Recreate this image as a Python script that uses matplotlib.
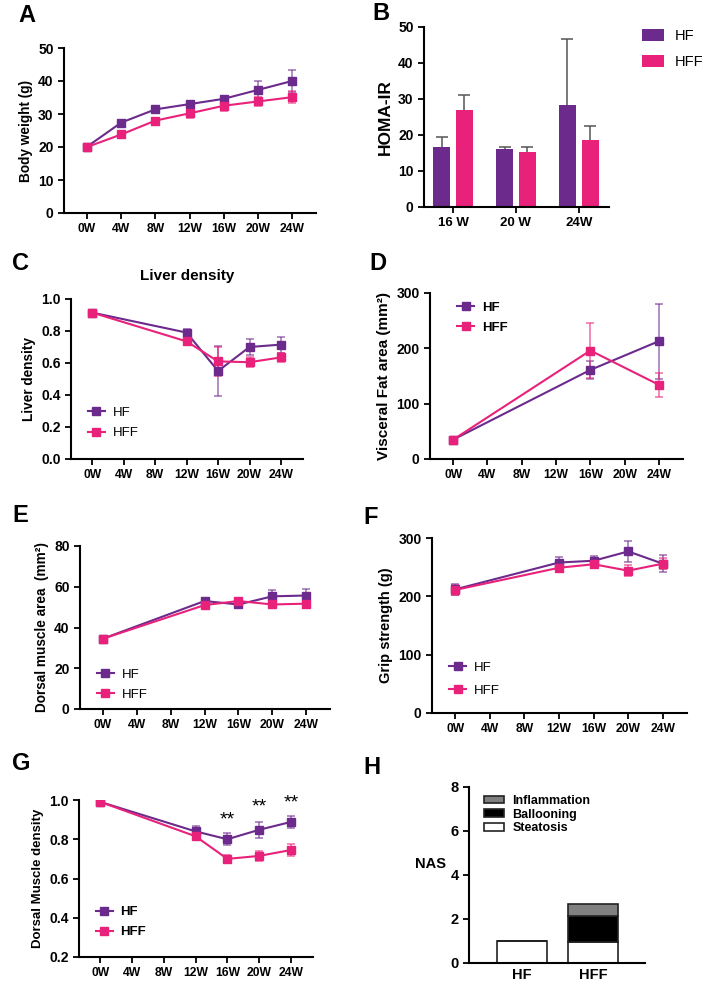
import matplotlib
matplotlib.use('Agg')
import matplotlib.pyplot as plt
from matplotlib.lines import Line2D

plt.rcParams['font.family'] = ['Liberation Sans', 'DejaVu Sans']
plt.rcParams['font.weight'] = 'bold'
plt.rcParams['axes.labelweight'] = 'bold'

# 颜色
purple = '#6b2a8c'
pink = '#e8217a'

# 时间轴
weeks = [0, 4, 8, 12, 16, 20, 24]
week_labels = ['0W', '4W', '8W', '12W', '16W', '20W', '24W']

# A 体重
bw_hf = [20.1, 27.4, 31.4, 33.0, 34.6, 37.3, 40.0]
bw_hf_err = [0.8, 0.6, 0.6, 0.9, 0.8, 2.7, 3.3]
bw_hff = [20.0, 23.8, 28.0, 30.2, 32.5, 33.8, 35.1]
bw_hff_err = [0.5, 0.5, 0.6, 1.3, 1.6, 1.5, 1.9]

# B HOMA-IR
homa_groups = ['16 W', '20 W', '24W']
homa_hf = [16.7, 16.2, 28.2]
homa_hf_err = [2.8, 0.6, 18.6]
homa_hff = [26.9, 15.3, 18.5]
homa_hff_err = [4.2, 1.5, 4.0]

# C 肝脏密度
lv_weeks = [0, 12, 16, 20, 24]
lv_hf = [0.915, 0.79, 0.55, 0.70, 0.715]
lv_hf_err = [0.005, 0.02, 0.155, 0.05, 0.05]
lv_hff = [0.915, 0.735, 0.61, 0.605, 0.635]
lv_hff_err = [0.005, 0.01, 0.09, 0.03, 0.03]

# D 内脏脂肪面积
vf_weeks = [0, 16, 24]
vf_hf = [35, 161, 213]
vf_hf_err = [3, 17, 68]
vf_hff = [35, 196, 134]
vf_hff_err = [3, 49, 22]

# E 背部肌肉面积
dm_weeks = [0, 12, 16, 20, 24]
dm_hf = [34.5, 53.0, 51.3, 55.3, 55.7]
dm_hf_err = [0.8, 1.2, 1.3, 3.0, 3.0]
dm_hff = [34.5, 51.0, 53.0, 51.3, 51.7]
dm_hff_err = [0.8, 1.0, 1.0, 1.0, 1.0]

# F 握力
gs_weeks = [0, 12, 16, 20, 24]
gs_hf = [212, 258, 261, 277, 256]
gs_hf_err = [9, 10, 8, 18, 15]
gs_hff = [211, 249, 255, 244, 256]
gs_hff_err = [8, 6, 6, 9, 9]

# G 背部肌肉密度
md_weeks = [0, 12, 16, 20, 24]
md_hf = [0.99, 0.84, 0.80, 0.848, 0.888]
md_hf_err = [0.005, 0.025, 0.03, 0.04, 0.03]
md_hff = [0.99, 0.815, 0.70, 0.715, 0.745]
md_hff_err = [0.005, 0.01, 0.02, 0.025, 0.03]
star_weeks = [16, 20, 24]
star_y = [0.90, 0.965, 0.985]

# H NAS
nas_groups = ['HF', 'HFF']
nas_steatosis = [1.0, 0.97]
nas_ballooning = [0.0, 1.16]
nas_inflammation = [0.0, 0.57]

W, H = 709, 985
fig = plt.figure(figsize=(W / 100, H / 100), dpi=100)


def make_ax(l, r, t, b):
    ax = fig.add_axes([l / W, 1 - b / H, (r - l) / W, (b - t) / H])
    for s in ['top', 'right']:
        ax.spines[s].set_visible(False)
    for s in ['left', 'bottom']:
        ax.spines[s].set_linewidth(1.5)
    ax.tick_params(width=1.3, length=4, direction='out')
    ax.tick_params(axis='x', labelsize=8.7)
    ax.tick_params(axis='y', labelsize=10)
    return ax


def line_panel(ax, x, hf, hf_err, hff, hff_err, ylim, yticks, ylabel, lsize=9.8):
    ax.errorbar(x, hf, yerr=hf_err, color=purple, lw=1.5, marker='s', ms=5.5,
                capsize=3, elinewidth=1.1, capthick=1.1, ecolor=purple + 'aa', label='HF')
    ax.errorbar(x, hff, yerr=hff_err, color=pink, lw=1.5, marker='s', ms=5.5,
                capsize=3, elinewidth=1.1, capthick=1.1, ecolor=pink + 'aa', label='HFF')
    ax.set_xlim(-2.7, 26.8)
    ax.set_xticks(weeks)
    ax.set_xticklabels(week_labels)
    ax.set_ylim(ylim)
    ax.set_yticks(yticks)
    ax.set_ylabel(ylabel, fontsize=lsize)


def line_legend(ax, x, y, bold, spacing=0.6):
    handles = [Line2D([], [], color=purple, lw=1.5, marker='s', ms=5.5),
               Line2D([], [], color=pink, lw=1.5, marker='s', ms=5.5)]
    ax.legend(handles, ['HF', 'HFF'], loc='upper left', bbox_to_anchor=(x, y),
              frameon=False, handlelength=1.3, handletextpad=0.6, labelspacing=spacing,
              prop={'size': 9.5, 'weight': 'bold' if bold else 'normal'})


# A
axA = make_ax(64, 316, 48, 213)
line_panel(axA, weeks, bw_hf, bw_hf_err, bw_hff, bw_hff_err, (0, 50), range(0, 51, 10), 'Body weight (g)')

# B
axB = make_ax(424, 609, 27, 207)
xb = range(len(homa_groups))
axB.bar([i - 0.18 for i in xb], homa_hf, width=0.27, color=purple, label='HF')
axB.bar([i + 0.18 for i in xb], homa_hff, width=0.27, color=pink, label='HFF')
for off, vals, errs in [(-0.18, homa_hf, homa_hf_err), (0.18, homa_hff, homa_hff_err)]:
    eb = axB.errorbar([i + off for i in xb], vals, yerr=[[0] * 3, errs], fmt='none',
                      ecolor='#555555', elinewidth=1.1, capsize=4, capthick=1.1)
    eb[1][0].set_visible(False)
axB.set_xlim(-0.46, 2.48)
axB.set_xticks(list(xb))
axB.set_xticklabels(homa_groups, fontsize=9.5)
axB.set_ylim(0, 50)
axB.set_yticks(range(0, 51, 10))
axB.set_ylabel('HOMA-IR', fontsize=12.5)
axB.legend(loc='upper left', bbox_to_anchor=(1.11, 1.06), frameon=False,
           handlelength=1.5, handleheight=0.9, handletextpad=0.7, labelspacing=0.8,
           prop={'size': 10.5, 'weight': 'normal'})

# C
axC = make_ax(71, 303, 299, 459)
line_panel(axC, lv_weeks, lv_hf, lv_hf_err, lv_hff, lv_hff_err, (0, 1.0),
           [0.0, 0.2, 0.4, 0.6, 0.8, 1.0], 'Liver density')
axC.yaxis.set_major_formatter(plt.FormatStrFormatter('%.1f'))
axC.set_title('Liver density', fontsize=11, fontweight='bold', pad=14)
line_legend(axC, 0.02, 0.4, False)

# D
axD = make_ax(430, 683, 293, 459)
line_panel(axD, vf_weeks, vf_hf, vf_hf_err, vf_hff, vf_hff_err, (0, 300),
           [0, 100, 200, 300], 'Visceral Fat area (mm²)', lsize=11)
line_legend(axD, 0.06, 1.02, True)

# E
axE = make_ax(80, 330, 546, 709)
line_panel(axE, dm_weeks, dm_hf, dm_hf_err, dm_hff, dm_hff_err, (0, 80),
           range(0, 81, 20), 'Dorsal muscle area  (mm²)')
line_legend(axE, 0.02, 0.32, False)

# F
axF = make_ax(432, 687, 538, 713)
line_panel(axF, gs_weeks, gs_hf, gs_hf_err, gs_hff, gs_hff_err, (0, 300),
           [0, 100, 200, 300], 'Grip strength (g)', lsize=10.5)
line_legend(axF, 0.02, 0.36, False, spacing=0.8)

# G
axG = make_ax(79, 313, 800, 957)
line_panel(axG, md_weeks, md_hf, md_hf_err, md_hff, md_hff_err, (0.2, 1.0),
           [0.2, 0.4, 0.6, 0.8, 1.0], 'Dorsal Muscle density', lsize=9.5)
axG.yaxis.set_major_formatter(plt.FormatStrFormatter('%.1f'))
for xs, ys in zip(star_weeks, star_y):
    axG.text(xs, ys, '**', ha='center', va='center', fontsize=14, fontweight='normal')
line_legend(axG, 0.02, 0.4, True)

# H
axH = make_ax(469, 645, 787, 963)
xh = range(len(nas_groups))
bot2 = nas_steatosis
bot3 = [a + b for a, b in zip(nas_steatosis, nas_ballooning)]
axH.bar(xh, nas_steatosis, width=0.7, color='white', edgecolor='#222222', lw=1.2, label='Steatosis')
axH.bar(xh, nas_ballooning, width=0.7, bottom=bot2, color='black', edgecolor='#222222', lw=1.2, label='Ballooning')
axH.bar(xh, nas_inflammation, width=0.7, bottom=bot3, color='#808080', edgecolor='#222222', lw=1.2, label='Inflammation')
axH.set_xlim(-0.75, 1.73)
axH.set_xticks(list(xh))
axH.set_xticklabels(nas_groups, fontsize=10.5)
axH.tick_params(axis='x', length=0)
axH.set_ylim(0, 8)
axH.set_yticks(range(0, 9, 2))
axH.tick_params(axis='y', labelsize=10.5)
axH.set_ylabel('NAS', rotation=0, fontsize=10.5, ha='center', va='center')
axH.yaxis.set_label_coords(-0.22, 0.56)
hh, ll = axH.get_legend_handles_labels()
axH.legend(hh[::-1], ll[::-1], loc='upper left', bbox_to_anchor=(0.02, 1.02), frameon=False,
           handlelength=1.6, handleheight=0.55, handletextpad=0.7, labelspacing=0.15,
           prop={'size': 9, 'weight': 'bold'})

# 面板字母
for lbl, x, y in [('A', 18, 15), ('B', 372, 13), ('C', 12, 263), ('D', 369, 263),
                  ('E', 12, 515), ('F', 363, 518), ('G', 12, 763), ('H', 363, 768)]:
    fig.text(x / W, 1 - y / H, lbl, fontsize=17, fontweight='bold', ha='left', va='center')

fig.savefig('out.png', dpi=100)
